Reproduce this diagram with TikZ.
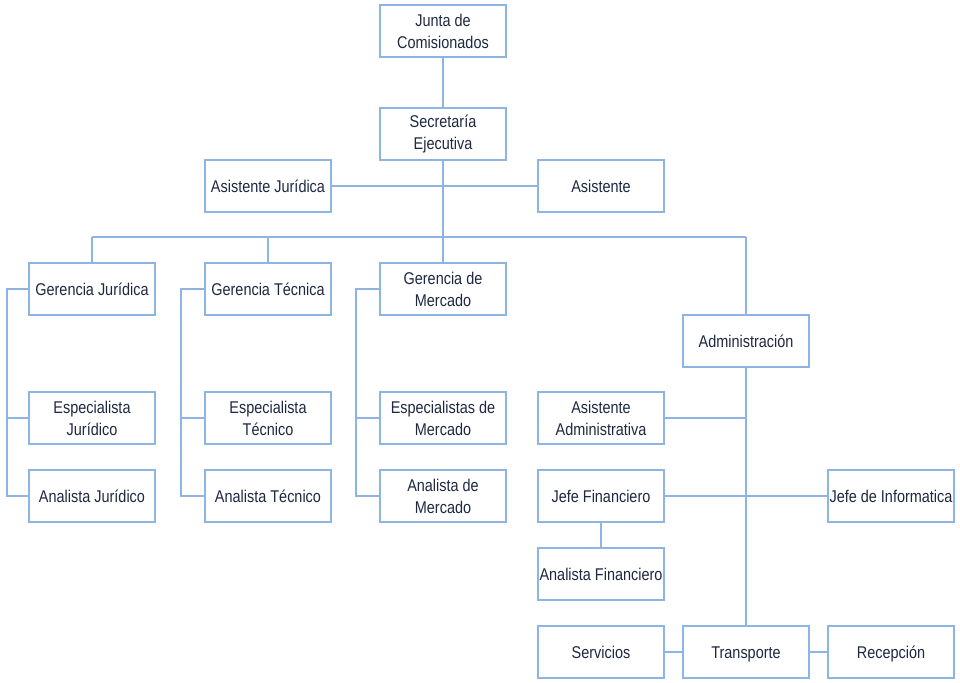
\documentclass[tikz,border=0pt]{standalone}
\usepackage{fontspec}
\setmainfont{Liberation Sans}[FakeStretch=0.85]
\definecolor{bline}{RGB}{141,180,226}
\definecolor{btext}{RGB}{30,40,64}
\begin{document}
\begin{tikzpicture}[x=1pt,y=-1pt,
  box/.style={draw=bline,line width=1.3pt,fill=white,minimum width=126pt,minimum height=52pt,inner sep=1pt,align=center,text=btext,font=\fontsize{17}{22}\selectfont},
  one/.style={text height=12pt,text depth=0pt},
  conn/.style={draw=bline,line width=1.3pt}]
\useasboundingbox (0,0) rectangle (960,682);
% nodes
\node[box] (junta) at (443,31) {Junta de\\Comisionados};
\node[box] (sec) at (443,134) {Secretaría\\Ejecutiva};
\node[box,one] (asj) at (268,186) {Asistente Jurídica};
\node[box,one] (asi) at (601,186) {Asistente};
\node[box,one] (gj) at (92,289) {Gerencia Jurídica};
\node[box,one] (gt) at (268,289) {Gerencia Técnica};
\node[box] (gm) at (443,289) {Gerencia de\\Mercado};
\node[box,one] (adm) at (746,341) {Administración};
\node[box] (ej) at (92,418) {Especialista\\Jurídico};
\node[box,one] (aj) at (92,496) {Analista Jurídico};
\node[box] (et) at (268,418) {Especialista\\Técnico};
\node[box,one] (at) at (268,496) {Analista Técnico};
\node[box] (em) at (443,418) {Especialistas de\\Mercado};
\node[box] (am) at (443,496) {Analista de\\Mercado};
\node[box] (asa) at (601,418) {Asistente\\Administrativa};
\node[box,one] (jf) at (601,496) {Jefe Financiero};
\node[box,one] (ji) at (891,496) {Jefe de Informatica};
\node[box,one] (af) at (601,574) {Analista Financiero};
\node[box,one] (ser) at (601,652) {Servicios};
\node[box,one] (tra) at (746,652) {Transporte};
\node[box,one] (rec) at (891,652) {Recepción};
% coordinates
\coordinate (busL) at (92,237);
\coordinate (busC) at (443,237);
\coordinate (busR) at (746,237);
\coordinate (busT) at (268,237);
\coordinate (xj) at (7,0);
\coordinate (xt) at (181,0);
\coordinate (xm) at (356,0);
% connectors
\draw[conn] (junta) -- (sec);
\draw[conn] (sec.south) -- (busC);
\draw[conn] (asj) -- (asi);
\draw[conn] (busL) -- (busR);
\draw[conn] (busL) -- (gj.north);
\draw[conn] (busT) -- (gt.north);
\draw[conn] (busC) -- (gm.north);
\draw[conn] (busR) -- (adm.north);
\draw[conn] (gj.west) -- (gj.west -| xj) |- (aj.west);
\draw[conn] (ej.west) -- (ej.west -| xj);
\draw[conn] (gt.west) -- (gt.west -| xt) |- (at.west);
\draw[conn] (et.west) -- (et.west -| xt);
\draw[conn] (gm.west) -- (gm.west -| xm) |- (am.west);
\draw[conn] (em.west) -- (em.west -| xm);
\draw[conn] (adm.south) -- (tra.north);
\draw[conn] (asa.east) -- (asa.east -| adm.south);
\draw[conn] (jf) -- (ji);
\draw[conn] (jf) -- (af);
\draw[conn] (ser) -- (tra);
\draw[conn] (tra) -- (rec);
\end{tikzpicture}
\end{document}
